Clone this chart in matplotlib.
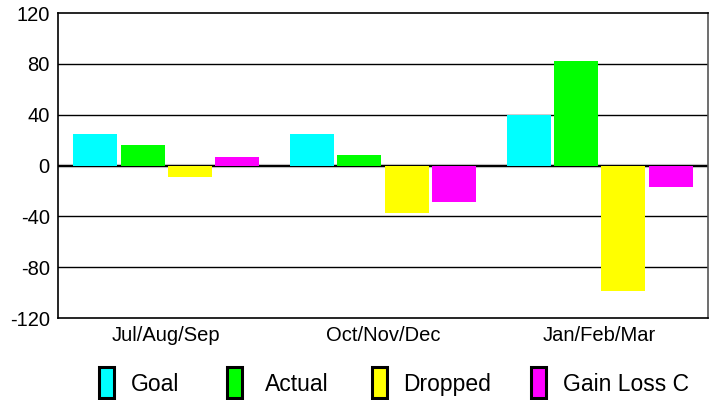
import numpy as np
import matplotlib
matplotlib.use("Agg")
import matplotlib.pyplot as plt
from matplotlib.patches import Rectangle

plt.rcParams['font.family'] = ['Liberation Sans', 'DejaVu Sans']

quarters = ["Jul/Aug/Sep", "Oct/Nov/Dec", "Jan/Feb/Mar"]
series = ["Goal", "Actual", "Dropped", "Gain Loss C"]
goal = [25, 25, 40]
actual = [16, 8, 82]
dropped = [-9, -37, -99]
gain_loss = [7, -29, -17]
colors = ["#00ffff", "#00ff00", "#ffff00", "#ff00ff"]
yticks = [-120, -80, -40, 0, 40, 80, 120]

W, H = 717, 400
fig = plt.figure(figsize=(W / 100, H / 100), dpi=100)
ax = fig.add_axes([58 / W, 1 - 318 / H, 650 / W, 305 / H])

x = np.arange(len(quarters)) + 0.5
slot = 0.218
bw = 0.203
for i, vals in enumerate([goal, actual, dropped, gain_loss]):
    ax.bar(x + (i - 1.5) * slot, vals, width=bw, color=colors[i], zorder=3)

ax.set_xlim(0, 3)
ax.set_ylim(-120, 120)
ax.set_yticks(yticks)
ax.set_yticklabels([str(v) for v in yticks], fontsize=14.5)
ax.set_xticks(x)
ax.set_xticklabels(quarters, fontsize=14.5)
ax.tick_params(axis='both', length=0)
ax.tick_params(axis='y', pad=6)
ax.tick_params(axis='x', pad=6)
for v in yticks[1:-1]:
    ax.axhline(v, color='black', lw=1.0, zorder=1)
ax.axhline(0, color='#c8c8c8', lw=3.0, zorder=1)
ax.axhline(0, color='black', lw=1.5, zorder=2)
for s in ax.spines.values():
    s.set_color('black')
    s.set_linewidth(1.2)
ax.spines['right'].set_color('#555555')

# legend row below the plot
patch_x = [99, 227, 372, 531]
text_x = [131, 265, 403, 563]
for i, name in enumerate(series):
    fig.patches.append(Rectangle((patch_x[i] / W, 1 - 398 / H), 15 / W, 31 / H,
                                 transform=fig.transFigure, facecolor=colors[i],
                                 edgecolor='black', lw=2.2))
    fig.text(text_x[i] / W, 1 - 391 / H, name, fontsize=16.5, va='baseline', ha='left')

fig.savefig("out.png", dpi=100)
